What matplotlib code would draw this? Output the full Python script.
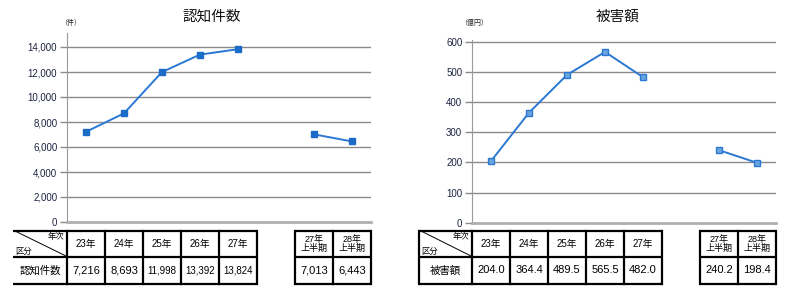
import numpy as np
import matplotlib
matplotlib.use("Agg")
import matplotlib.pyplot as plt

plt.rcParams['font.family'] = ['Liberation Sans', 'Noto Sans CJK JP', 'DejaVu Sans']

# data
year_labels = ['23年', '24年', '25年', '26年', '27年']
half_labels = ['27年\n上半期', '28年\n上半期']
count_year = [7216, 8693, 11998, 13392, 13824]
count_half = [7013, 6443]
count_year_txt = ['7,216', '8,693', '11,998', '13,392', '13,824']
count_half_txt = ['7,013', '6,443']
damage_year = [204.0, 364.4, 489.5, 565.5, 482.0]
damage_half = [240.2, 198.4]
damage_year_txt = ['204.0', '364.4', '489.5', '565.5', '482.0']
damage_half_txt = ['240.2', '198.4']

W, H = 800, 302
fig = plt.figure(figsize=(W / 100, H / 100), dpi=100)

# overlay in pixel coords for titles and tables
ov = fig.add_axes([0, 0, 1, 1])
ov.set_xlim(0, W)
ov.set_ylim(H, 0)
ov.axis('off')

line_c = '#2a78d2'
slot = 38.0
x_year = np.arange(5)
x_half = np.arange(2) + 6


def draw_chart(left, top, bottom, ymax, ticks, fmt, yv, hv, mcol, medge, title, tcx, unit, ux):
    ax = fig.add_axes([left / W, (H - bottom) / H, 8 * slot / W, (bottom - top) / H])
    ax.set_zorder(2)
    ax.plot(x_year, yv, color=line_c, lw=1.4, marker='s', ms=5, mfc=mcol, mec=medge)
    ax.plot(x_half, hv, color=line_c, lw=1.4, marker='s', ms=5, mfc=mcol, mec=medge)
    ax.set_xlim(-0.5, 7.5)
    ax.set_ylim(0, ymax)
    ax.set_yticks(ticks)
    ax.set_yticklabels([fmt(t) for t in ticks], fontsize=7, color='#1c2340')
    ax.set_xticks([])
    for t in ticks[1:]:
        ax.axhline(t, color='#8a8a8a', lw=1.0, zorder=0)
    for s in ['top', 'right']:
        ax.spines[s].set_visible(False)
    ax.spines['left'].set_color('#9a9a9a')
    ax.spines['bottom'].set_color('#b0b0b0')
    ax.spines['bottom'].set_linewidth(2)
    ax.tick_params(axis='y', length=5, width=1, color='#8a8a8a', pad=2)
    ax.patch.set_alpha(0)
    ov.text(tcx, 17, title, ha='center', va='center', fontsize=10.5, color='#111')
    ov.text(ux, 23, unit, ha='left', va='center', fontsize=5, color='#222')
    return ax


def draw_table(x0, left, yv_txt, hv_txt, name, small, left_edge):
    ytop, ymid, ybot = 231, 256.5, 284
    edges = [left + k * slot for k in range(6)]
    edges2 = [left + k * slot for k in range(6, 9)]
    lw = 1.6
    # horizontals
    for y in (ytop, ymid, ybot):
        ov.plot([x0, edges[-1]], [y, y], color='k', lw=lw, solid_capstyle='butt')
        ov.plot([edges2[0], edges2[-1]], [y, y], color='k', lw=lw, solid_capstyle='butt')
    for x in edges + edges2:
        ov.plot([x, x], [ytop, ybot], color='k', lw=lw)
    if left_edge:
        ov.plot([x0, x0], [ytop, ybot], color='k', lw=lw)
    # header cell diagonal
    ov.plot([x0 + 2, left], [ytop, ymid], color='k', lw=0.7)
    ov.text(left - 3, ytop + 6, '年次', ha='right', va='center', fontsize=6)
    ov.text(x0 + 2, ymid - 5, '区分', ha='left', va='center', fontsize=6)
    ov.text((x0 + left) / 2, (ymid + ybot) / 2, name, ha='center', va='center', fontsize=7.5)
    for i, lab in enumerate(year_labels):
        cx = (edges[i] + edges[i + 1]) / 2
        ov.text(cx, (ytop + ymid) / 2, lab, ha='center', va='center', fontsize=7)
        fs = 7 if i in small else 8
        ov.text(cx, (ymid + ybot) / 2, yv_txt[i], ha='center', va='center', fontsize=fs)
    for i, lab in enumerate(half_labels):
        cx = (edges2[i] + edges2[i + 1]) / 2
        ov.text(cx, (ytop + ymid) / 2 + 0.5, lab, ha='center', va='center', fontsize=6.5,
                linespacing=1.0)
        ov.text(cx, (ymid + ybot) / 2, hv_txt[i], ha='center', va='center', fontsize=8)


draw_chart(67, 33, 222, 15120, list(range(0, 14001, 2000)),
           lambda t: f'{t:,}', count_year, count_half, '#1a6cc8', '#1a6cc8',
           '認知件数', 212, '（件）', 60)
draw_table(13, 67, count_year_txt, count_half_txt, '認知件数', (2, 3, 4), False)

draw_chart(472, 40, 222.7, 605, list(range(0, 601, 100)),
           lambda t: f'{t}', damage_year, damage_half, '#6aa5dd', '#2a78d2',
           '被害額', 618, '（億円）', 460)
draw_table(419, 472, damage_year_txt, damage_half_txt, '被害額', (), True)

fig.savefig('out.png', dpi=100)
